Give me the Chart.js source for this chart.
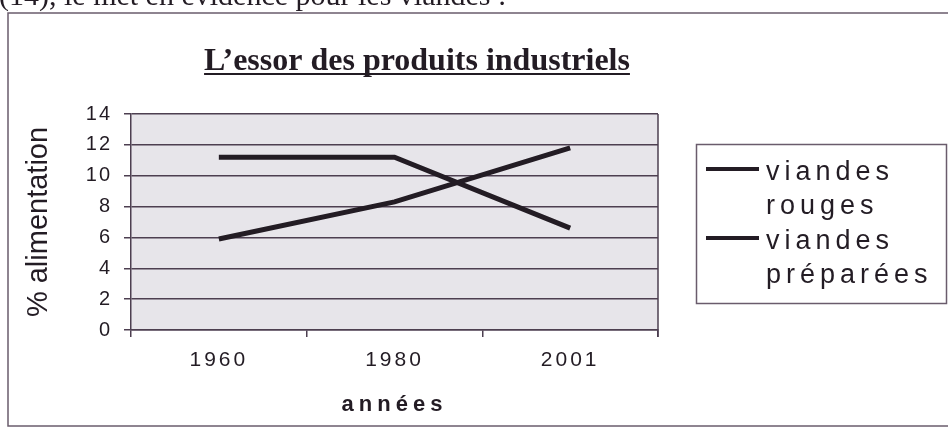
<!DOCTYPE html>
<html>
<head>
<meta charset="utf-8">
<script src="https://cdn.jsdelivr.net/npm/chart.js@4.4.1/dist/chart.umd.min.js"></script>
<style>
  html, body { margin: 0; padding: 0; background: #ffffff; }
  #wrap { position: relative; width: 948px; height: 429px; overflow: hidden; }
  canvas { display: block; }
</style>
</head>
<body>
<div id="wrap"><canvas id="c" width="948" height="429"></canvas></div>
<script>
// ---- data ----
const categories = ['1960', '1980', '2001'];
const viandesRouges = [11.2, 11.2, 6.6];
const viandesPreparees = [5.9, 8.3, 11.8];
const seriesLabels = [['viandes', 'rouges'], ['viandes', 'préparées']];
const yTicks = [0, 2, 4, 6, 8, 10, 12, 14];
const chartTitle = 'L\u2019essor des produits industriels';
const xTitle = 'années';
const yTitle = '% alimentation';
const headerText = '(14), le met en évidence pour les viandes :';

const INK = '#231c24';
const GRID = '#4d3f50';
const SANS = '"Liberation Sans", Arial, sans-serif';
const SERIF = '"Liberation Serif", "Times New Roman", serif';

const decor = {
  id: 'decor',
  afterUpdate(chart) {
    const patch = (id, labelSp, titleSp) => {
      const s = chart.scales[id];
      if (!s || s.__patched) return;
      const dl = s.drawLabels, dt = s.drawTitle;
      s.drawLabels = function (a) { const c = this.ctx; c.save(); c.letterSpacing = labelSp; dl.call(this, a); c.restore(); };
      s.drawTitle = function () { const c = this.ctx; c.save(); c.letterSpacing = titleSp; dt.call(this); c.restore(); };
      s.__patched = true;
    };
    patch('x', '3px', '5px');
    patch('y', '2px', '0px');
  },
  beforeDraw(chart) {
    const ctx = chart.ctx, a = chart.chartArea;
    ctx.save();
    // header text (cut by page top)
    ctx.fillStyle = INK;
    ctx.font = '30px ' + SERIF;
    ctx.textBaseline = 'alphabetic';
    ctx.textAlign = 'left';
    ctx.fillText(headerText, -1, 5);
    // outer frame
    ctx.strokeStyle = '#6a5c6c';
    ctx.lineWidth = 1.5;
    ctx.strokeRect(8, 13, 960, 413);
    // plot background
    ctx.fillStyle = '#e7e5ea';
    ctx.fillRect(a.left, a.top, a.right - a.left, a.bottom - a.top);
    ctx.restore();
  },
  afterDraw(chart) {
    const ctx = chart.ctx, a = chart.chartArea;
    ctx.save();
    // right border of plot
    ctx.strokeStyle = GRID;
    ctx.lineWidth = 1.5;
    ctx.beginPath();
    ctx.moveTo(a.right, a.top);
    ctx.lineTo(a.right, a.bottom + 7);
    ctx.stroke();
    // title
    ctx.fillStyle = INK;
    ctx.font = 'bold 32px ' + SERIF;
    ctx.textAlign = 'center';
    ctx.textBaseline = 'alphabetic';
    const tx = 417, ty = 70;
    ctx.fillText(chartTitle, tx, ty);
    const w = ctx.measureText(chartTitle).width;
    ctx.strokeStyle = INK;
    ctx.lineWidth = 2;
    ctx.beginPath();
    ctx.moveTo(tx - w / 2, ty + 4);
    ctx.lineTo(tx + w / 2, ty + 4);
    ctx.stroke();
    // legend
    ctx.strokeStyle = '#6a5c6c';
    ctx.lineWidth = 1.5;
    ctx.strokeRect(696.5, 144.5, 250, 159);
    ctx.font = '27px ' + SANS;
    ctx.letterSpacing = '5px';
    ctx.textAlign = 'left';
    const baselines = [[180, 214], [249, 283]];
    const lineY = [169, 238];
    chart.data.datasets.forEach((ds, i) => {
      ctx.strokeStyle = ds.borderColor;
      ctx.lineWidth = 4;
      ctx.beginPath();
      ctx.moveTo(706, lineY[i]);
      ctx.lineTo(759, lineY[i]);
      ctx.stroke();
      ctx.fillStyle = INK;
      ds.label.forEach((t, j) => ctx.fillText(t, 766, baselines[i][j]));
    });
    ctx.restore();
  }
};

new Chart(document.getElementById('c'), {
  type: 'line',
  data: {
    labels: categories,
    datasets: [
      { label: seriesLabels[0], data: viandesRouges, borderColor: INK, borderWidth: 5, pointRadius: 0, tension: 0, fill: false },
      { label: seriesLabels[1], data: viandesPreparees, borderColor: INK, borderWidth: 5, pointRadius: 0, tension: 0, fill: false }
    ]
  },
  options: {
    responsive: false,
    animation: false,
    events: [],
    layout: { padding: { top: 114, right: 290, bottom: 0, left: 0 } },
    plugins: { legend: { display: false }, title: { display: false }, tooltip: { enabled: false } },
    scales: {
      x: {
        type: 'category',
        offset: true,
        grid: { offset: true, drawOnChartArea: false, drawTicks: true, tickLength: 7, color: GRID, lineWidth: 1.5 },
        border: { display: true, color: GRID, width: 1.5 },
        ticks: { color: INK, font: { family: SANS, size: 21 }, padding: 11, maxRotation: 0 },
        title: { display: true, text: xTitle, color: INK, font: { family: SANS, size: 22, weight: 'bold' }, padding: { top: 0, bottom: 11 } },
        afterFit(s) { s.height = 99; }
      },
      y: {
        min: 0, max: 14,
        afterBuildTicks(s) { s.ticks = yTicks.map(v => ({ value: v })); },
        grid: { color: GRID, lineWidth: 1.5, tickLength: 7, drawTicks: true },
        border: { display: true, color: GRID, width: 1.5 },
        ticks: { color: INK, font: { family: SANS, size: 20 }, padding: 12 },
        title: { display: true, text: yTitle, color: INK, font: { family: SANS, size: 29 }, padding: { top: 22, bottom: 0 } },
        afterFit(s) { s.width = 131; }
      }
    }
  },
  plugins: [decor]
});
</script>
</body>
</html>
